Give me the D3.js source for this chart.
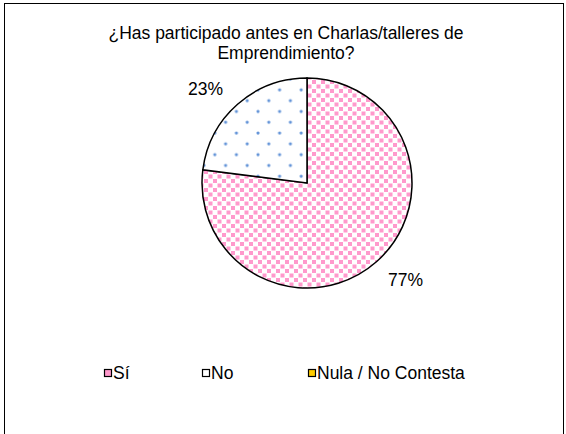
<!DOCTYPE html>
<html><head><meta charset="utf-8">
<script src="https://cdn.jsdelivr.net/npm/d3@7"></script>
<style>body{margin:0;background:#fff}svg{display:block}text{font-family:"Liberation Sans",Arial,sans-serif;fill:#000}</style>
</head><body>
<script>
const titleLines = ["¿Has participado antes en Charlas/talleres de", "Emprendimiento?"];
const categories = ["Sí", "No", "Nula / No Contesta"];
const values = [77, 23, 0];
const labels = ["77%", "23%", ""];

const W = 566, H = 434;
const svg = d3.select("body").append("svg").attr("width", W).attr("height", H);
const defs = svg.append("defs");

// pink square pattern
const p1 = defs.append("pattern").attr("id","pinkpat").attr("patternUnits","userSpaceOnUse")
  .attr("width",9).attr("height",9);
p1.append("rect").attr("width",9).attr("height",9).attr("fill","#fff");
p1.append("rect").attr("x",0.5).attr("y",0.5).attr("width",4).attr("height",4).attr("fill","#ff99cc");
p1.append("rect").attr("x",5).attr("y",5).attr("width",4).attr("height",4).attr("fill","#ff99cc");

// blue dot pattern
const p2 = defs.append("pattern").attr("id","bluepat").attr("patternUnits","userSpaceOnUse")
  .attr("width",21.6).attr("height",21.6).attr("x",3).attr("y",2);
p2.append("rect").attr("width",21.6).attr("height",21.6).attr("fill","#fff");
p2.append("circle").attr("cx",2).attr("cy",2).attr("r",1.6).attr("fill","#6394d8");
p2.append("circle").attr("cx",12.8).attr("cy",12.8).attr("r",1.6).attr("fill","#6394d8");

const fills = ["url(#pinkpat)", "url(#bluepat)", "#ffcc00"];
const legendFills = ["#ff99cc", "#fff", "#ffcc00"];

// frame
svg.append("rect").attr("x",4.5).attr("y",3.5).attr("width",559).attr("height",440)
  .attr("fill","none").attr("stroke","#000").attr("stroke-width",1);

// title
svg.append("g").selectAll("text").data(titleLines).join("text")
  .attr("x",286).attr("y",(d,i)=>39+i*20).attr("text-anchor","middle")
  .style("font-size","17.5px").text(d=>d);

const cx = 307, cy = 183, r = 105;
const pie = d3.pie().sort(null).value(d=>d)(values);
const arc = d3.arc().innerRadius(0).outerRadius(r);
const g = svg.append("g").attr("transform",`translate(${cx},${cy})`);
g.selectAll("path").data(pie.filter(d=>d.value>0)).join("path")
  .attr("d",arc).attr("fill",d=>fills[d.index]).attr("stroke","#000").attr("stroke-width",1.5);

const lblArc = d3.arc().innerRadius(r+13).outerRadius(r+13);
g.selectAll("text.lbl").data(pie.filter(d=>d.value>0)).join("text").attr("class","lbl")
  .each(function(d){
    const [px,py] = lblArc.centroid(d);
    const right = px > 0;
    d3.select(this).attr("x", px + (right?3:-6)).attr("y", py + (py>0?14.5:0.5))
      .attr("text-anchor", right?"start":"end").style("font-size","17.5px").text(labels[d.index]);
  });

// legend
const legX = [104, 202, 308];
const lg = svg.append("g").selectAll("g").data(categories).join("g")
  .attr("transform",(d,i)=>`translate(${legX[i]},369)`);
lg.append("rect").attr("x",0.5).attr("y",0.5).attr("width",7).attr("height",7)
  .attr("fill",(d,i)=>legendFills[i]).attr("stroke","#000").attr("stroke-width",1.2);
lg.append("text").attr("x",9).attr("y",10).style("font-size","17.5px").text(d=>d);
</script>
</body></html>
